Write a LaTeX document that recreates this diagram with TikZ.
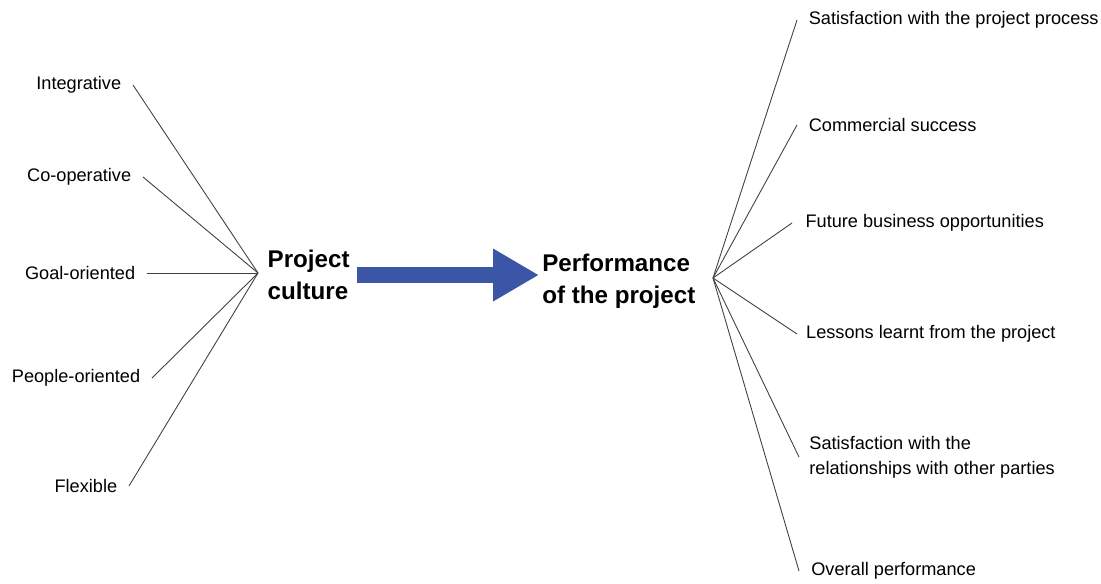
\documentclass[tikz,border=0pt]{standalone}
\usepackage{fontspec}
\setmainfont{Liberation Sans}
\usetikzlibrary{arrows.meta}
\definecolor{arrowblue}{RGB}{59,86,166}
\tikzset{%
lbl/.style={font=\fontsize{10.3}{14.2}\selectfont, inner ysep=0pt, inner xsep=6.5pt, align=left},%
hdr/.style={font=\fontsize{13.7}{18.1}\selectfont\bfseries, inner ysep=0pt, align=left},%
spoke/.style={draw=black!75, line width=0.5pt},%
bigarrow/.style={draw=arrowblue, line width=9.07pt, -{Triangle[length=26pt, width=28pt]}}%
}
\begin{document}
\begin{tikzpicture}[x=0.567pt, y=-0.567pt]%
\useasboundingbox (0,0) rectangle (1101,583);%
\coordinate (hubL) at (258,273);%
\coordinate (hubR) at (713,278);%
\node[hdr, anchor=east, inner xsep=4pt] (culture) at (357,275) {Project\\culture};%
\node[hdr, anchor=west, inner xsep=1.7pt] (perf) at (539,281) {Performance\\of the project};%
\draw[bigarrow] (culture.east) -- (culture.east -| perf.west);%
\node[lbl, anchor=east] (integ) at (133,85) {Integrative};%
\node[lbl, anchor=east] (coop) at (143,177) {Co-operative};%
\node[lbl, anchor=east] (goal) at (147,273) {Goal-oriented};%
\node[lbl, anchor=east] (people) at (152,378) {People-oriented};%
\node[lbl, anchor=east] (flex) at (129,486) {Flexible};%
\node[lbl, anchor=west] (satproc) at (797,20) {Satisfaction with the project process};%
\node[lbl, anchor=west] (commerce) at (797,125) {Commercial success};%
\node[lbl, anchor=west, inner xsep=7.5pt] (future) at (792,223) {Future business opportunities};%
\node[lbl, anchor=west, inner xsep=5pt] (lessons) at (797,334) {Lessons learnt from the project};%
\node[lbl, anchor=west, inner xsep=5.7pt] (satrel) at (799,457) {Satisfaction with the\\relationships with other parties};%
\node[lbl, anchor=west, inner xsep=6.8pt] (overall) at (799,571) {Overall performance};%
\foreach \n in {integ,coop,goal,people,flex} {\draw[spoke] (\n.east) -- (hubL);}%
\foreach \n in {satproc,commerce,future,lessons,overall} {\draw[spoke] (\n.west) -- (hubR);}%
\draw[spoke] (satrel.west) -- (hubR);%
\end{tikzpicture}
\end{document}
